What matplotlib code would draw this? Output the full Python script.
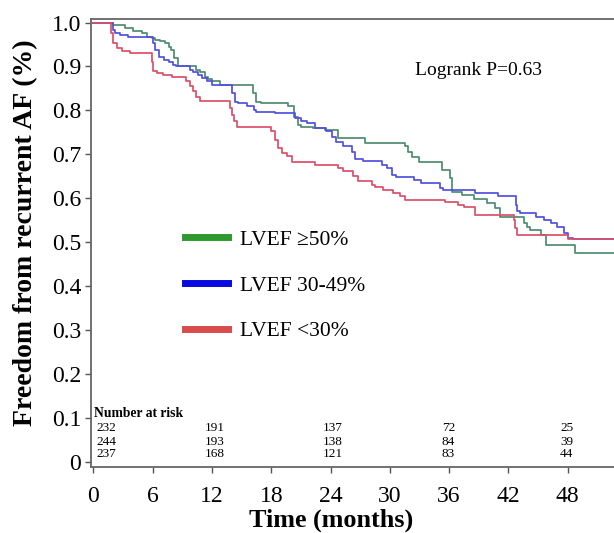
import matplotlib
matplotlib.use("Agg")
import matplotlib.pyplot as plt
from matplotlib.lines import Line2D

# ---------------- data ----------------
# Kaplan-Meier step points (time in months, survival)
green_t = [0, 2.0, 3.2, 4.0, 4.9, 5.4, 5.9, 6.2, 6.7, 7.2, 7.6, 7.9, 8.2, 8.6, 10.4, 10.8, 11.3, 11.6, 12.0, 12.8,
           16.2, 16.5, 17.0, 19.7, 20.3, 20.7, 21.0, 22.2, 23.4, 24.8, 27.5, 31.5, 31.8, 32.2, 33.0, 35.3, 36.1,
           36.3, 37.3, 38.5, 39.8, 40.7, 41.2, 43.6, 43.9, 44.2, 45.3, 45.8, 48.8]
green_s = [1.0, 0.995, 0.987, 0.98, 0.976, 0.968, 0.964, 0.96, 0.957, 0.953, 0.945, 0.938, 0.919, 0.90, 0.892,
           0.888, 0.877, 0.872, 0.866, 0.858, 0.839, 0.82, 0.816, 0.809, 0.786, 0.767, 0.763, 0.76, 0.756, 0.737,
           0.725, 0.718, 0.706, 0.694, 0.683, 0.664, 0.645, 0.615, 0.607, 0.598, 0.589, 0.577, 0.558, 0.543, 0.535,
           0.528, 0.516, 0.494, 0.475]

blue_t = [0, 2.0, 2.2, 2.7, 3.5, 6.0, 6.2, 6.6, 7.1, 7.6, 8.1, 8.4, 9.8, 10.1, 10.6, 10.95, 11.5, 12.0, 14.0, 14.3,
          14.6, 15.5, 16.3, 16.5, 18.4, 20.4, 21.0, 21.6, 22.4, 23.5, 24.2, 24.6, 25.3, 26.2, 26.5, 27.3, 29.2, 29.7,
          30.2, 30.6, 32.5, 33.2, 35.1, 35.4, 38.6, 41.0, 42.8, 42.9, 43.2, 44.8, 45.6, 46.3, 46.9, 47.6, 48.0, 48.5]
blue_s = [1.0, 0.983, 0.976, 0.972, 0.967, 0.953, 0.938, 0.922, 0.915, 0.911, 0.904, 0.90, 0.892, 0.888, 0.881,
          0.873, 0.866, 0.858, 0.839, 0.82, 0.816, 0.809, 0.80, 0.797, 0.794, 0.782, 0.775, 0.771, 0.759, 0.752,
          0.740, 0.729, 0.718, 0.705, 0.69, 0.685, 0.676, 0.668, 0.653, 0.649, 0.642, 0.634, 0.623, 0.619, 0.611,
          0.604, 0.585, 0.57, 0.566, 0.558, 0.551, 0.543, 0.535, 0.52, 0.509, 0.506]

red_t = [0, 1.8, 2.0, 2.35, 2.85, 3.7, 5.9, 6.0, 6.4, 7.0, 8.0, 9.4, 9.8, 10.1, 10.4, 10.8, 13.8, 14.0, 14.2, 14.5,
         18.0, 18.4, 18.7, 19.05, 19.6, 20.1, 22.4, 24.8, 25.3, 26.3, 26.8, 28.2, 28.5, 29.3, 30.3, 31.0, 31.5,
         35.6, 36.9, 37.5, 38.6, 42.6, 42.7, 42.9, 48.0]
red_s = [1.0, 0.975, 0.953, 0.942, 0.936, 0.930, 0.911, 0.89, 0.885, 0.881, 0.877, 0.866, 0.856, 0.845, 0.831, 0.822,
         0.805, 0.79, 0.775, 0.763, 0.752, 0.733, 0.714, 0.702, 0.695, 0.683, 0.675, 0.668, 0.661, 0.650, 0.640,
         0.630, 0.626, 0.619, 0.611, 0.604, 0.596, 0.592, 0.585, 0.581, 0.562, 0.55, 0.532, 0.516, 0.506]

follow_up_end = 52.7

group_labels = ["LVEF \u226550%", "LVEF 30-49%", "LVEF <30%"]
risk_times = [0, 11, 23, 35, 47]
risk_green = [232, 191, 137, 72, 25]
risk_blue = [244, 193, 138, 84, 39]
risk_red = [237, 168, 121, 83, 44]
x_ticks = [0, 6, 12, 18, 24, 30, 36, 42, 48]
y_ticks = [0, 0.1, 0.2, 0.3, 0.4, 0.5, 0.6, 0.7, 0.8, 0.9, 1.0]
y_ticklabels = ["0", "0.1", "0.2", "0.3", "0.4", "0.5", "0.6", "0.7", "0.8", "0.9", "1.0"]

# ---------------- style ----------------
plt.rcParams['font.family'] = ['Liberation Serif', 'DejaVu Serif']
curve_colors = ['#4d8c6e', '#5050e0', '#d9506a']
legend_colors = ['#2e9a2e', '#0a0ae0', '#d84c4c']

fig = plt.figure(figsize=(6.14, 5.33), dpi=100)
ax = fig.add_axes([91 / 614, 66 / 533, 1 - 91 / 614, (467 - 19) / 533])

for t, s, c in [(green_t, green_s, curve_colors[0]),
                (blue_t, blue_s, curve_colors[1]),
                (red_t, red_s, curve_colors[2])]:
    ax.step(list(t) + [follow_up_end], list(s) + [s[-1]], where='post', color=c, lw=1.25)

ax.set_xlim(-0.25, 52.7)
ax.set_ylim(-0.012, 1.008)
ax.set_xticks(x_ticks)
ax.set_yticks(y_ticks)
ax.set_yticklabels(y_ticklabels)
ax.tick_params(axis='both', labelsize=17, direction='out', length=4, width=1, color='#555555')
ax.tick_params(axis='x', pad=10)
ax.tick_params(axis='y', pad=3)
for side in ['left', 'bottom', 'top']:
    ax.spines[side].set_color('#666666')
    ax.spines[side].set_linewidth(1.3)
ax.spines['right'].set_visible(False)

ax.set_xlabel("Time (months)", fontsize=18.8, fontweight='bold')
ax.xaxis.set_label_coords(0.46, -0.092)
ax.set_ylabel("Freedom from recurrent AF (%)", fontsize=20, fontweight='bold')
ax.yaxis.set_label_coords(-0.102, 0.522)

ax.text(0.62, 0.885, "Logrank P=0.63", transform=ax.transAxes, fontsize=14, ha='left', va='center')

handles = [Line2D([], [], color=c, lw=5) for c in legend_colors]
ax.legend(handles, group_labels, loc='upper left', bbox_to_anchor=(0.18, 0.53), frameon=False,
          fontsize=15.5, handlelength=2.0, handletextpad=0.55, labelspacing=1.2, borderpad=0, borderaxespad=0)

# number at risk
ax.text(0.1, 0.110, "Number at risk", fontsize=9.8, fontweight='bold', ha='left', va='center')
for row_vals, yv in [(risk_green, 0.076), (risk_blue, 0.046), (risk_red, 0.017)]:
    for tt, v in zip(risk_times, row_vals):
        ax.text(tt + 0.25, yv, str(v), fontsize=9.5, ha='left', va='center')

fig.savefig("out.png", dpi=100)
